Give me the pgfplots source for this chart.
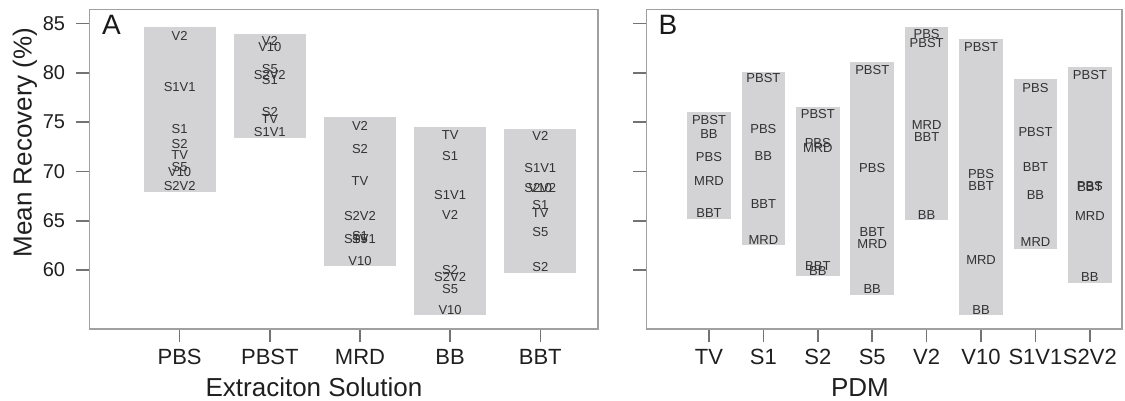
\documentclass[border=0pt]{standalone}
\usepackage{fontspec}
\setmainfont{Liberation Sans}
\usepackage{pgfplots}
\pgfplotsset{compat=1.18}
\usepackage{pgfplotstable}
\definecolor{boxgray}{RGB}{211,211,213}
\definecolor{labgray}{RGB}{50,50,50}
\definecolor{framegray}{RGB}{160,160,160}

\pgfplotstableread{
x y label
1 83.71 V2
1 78.51 S1V1
1 74.26 S1
1 72.81 S2
1 71.68 TV
1 70.45 S5
1 69.91 V10
1 68.49 S2V2
2 83.22 V2
2 82.61 V10
2 80.37 S5
2 79.78 S2V2
2 79.27 S1
2 75.98 S2
2 75.32 TV
2 74.01 S1V1
3 74.62 V2
3 72.29 S2
3 68.98 TV
3 65.44 S2V2
3 63.48 S1
3 63.20 S1V1
3 63.15 S5
3 60.92 V10
4 73.70 TV
4 71.61 S1
4 67.63 S1V1
4 65.61 V2
4 60.04 S2
4 59.30 S2V2
4 58.09 S5
4 56.00 V10
5 73.57 V2
5 70.37 S1V1
5 68.35 S2V2
5 68.35 V10
5 66.55 S1
5 65.81 TV
5 63.81 S5
5 60.35 S2
}\labelsA

\pgfplotstableread{
x y label
1 75.22 PBST
1 73.81 BB
1 71.51 PBS
1 68.98 MRD
1 65.78 BBT
2 79.47 PBST
2 74.31 PBS
2 71.61 BB
2 66.72 BBT
2 63.08 MRD
3 75.83 PBST
3 72.93 PBS
3 72.36 MRD
3 60.38 BBT
3 59.87 BB
4 80.28 PBST
4 70.33 PBS
4 63.86 BBT
4 62.67 MRD
4 58.09 BB
5 83.93 PBS
5 83.05 PBST
5 74.72 MRD
5 73.53 BBT
5 65.61 BB
6 82.58 PBST
6 69.76 PBS
6 68.57 BBT
6 60.98 MRD
6 55.99 BB
7 78.49 PBS
7 73.98 PBST
7 70.47 BBT
7 67.63 BB
7 62.80 MRD
8 79.78 PBST
8 68.50 PBS
8 68.42 BBT
8 65.51 MRD
8 59.30 BB
}\labelsB

\pgfplotsset{
  panel/.style={
    scale only axis,
    height=159.75pt,
    ymin=54.03, ymax=86.42,
    ytick={60,65,70,75,80,85},
    tick align=outside,
    tick pos=left,
    major tick length=6.75pt,
    axis line style={framegray, line width=0.75pt},
    tick style={black!55, line width=0.75pt},
    xtick=data,
    /pgf/number format/assume math mode=true,
    yticklabel style={font=\fontsize{10}{12}\selectfont, text=black!88, inner sep=0pt, xshift=-5.3pt},
    xticklabel style={font=\fontsize{11}{13}\selectfont, text=black!88, inner sep=0pt, anchor=north, yshift=-3pt},
    label style={font=\fontsize{13}{15}\selectfont, text=black!88},
    clip=false,
  },
  boxlabels/.style={
    draw=none, mark=none,
    nodes near coords,
    point meta=explicit symbolic,
    every node near coord/.style={anchor=center, inner sep=0pt, font=\fontsize{6.5}{7}\selectfont, text=labgray},
  },
}

\begin{document}
\begin{tikzpicture}
\useasboundingbox (0,0) rectangle (562.5pt,200.5pt);
\begin{axis}[panel,
  at={(44.75pt,36pt)}, anchor=south west,
  width=254.25pt,
  xmin=0, xmax=5.64,
  xtick={1,2,3,4,5},
  xticklabels={PBS,PBST,MRD,BB,BBT},
  xlabel={Extraciton Solution},
  ylabel={Mean Recovery (\%)},
  xlabel style={at={(axis description cs:0.4415,0)}, anchor=base, yshift=-33.85pt},
  ylabel style={at={(axis description cs:-0.1268,0.584)}, anchor=center, rotate=0},
]
\addplot[fill=boxgray, draw=none] coordinates {(0.6,67.87) (1.4,67.87) (1.4,84.60) (0.6,84.60)};
\addplot[fill=boxgray, draw=none] coordinates {(1.6,73.37) (2.4,73.37) (2.4,83.93) (1.6,83.93)};
\addplot[fill=boxgray, draw=none] coordinates {(2.6,60.38) (3.4,60.38) (3.4,75.50) (2.6,75.50)};
\addplot[fill=boxgray, draw=none] coordinates {(3.6,55.49) (4.4,55.49) (4.4,74.54) (3.6,74.54)};
\addplot[fill=boxgray, draw=none] coordinates {(4.6,59.71) (5.4,59.71) (5.4,74.31) (4.6,74.31)};
\addplot[boxlabels] table[x=x, y=y, meta=label] {\labelsA};
\node[anchor=base west, inner sep=0pt, font=\fontsize{14}{16}\selectfont, text=black!90] at ([xshift=6.1pt, yshift=-12.4pt]rel axis cs:0,1) {A};
\end{axis}

\begin{axis}[panel,
  at={(323.25pt,36pt)}, anchor=south west,
  width=237.75pt,
  xmin=-0.148, xmax=8.59,
  xtick={1,2,3,4,5,6,7,8},
  xticklabels={TV,S1,S2,S5,V2,V10,S1V1,S2V2},
  yticklabels={},
  xlabel={PDM},
  xlabel style={at={(axis description cs:0.449,0)}, anchor=base, yshift=-33.85pt},
]
\addplot[fill=boxgray, draw=none] coordinates {(0.6,65.17) (1.4,65.17) (1.4,76.00) (0.6,76.00)};
\addplot[fill=boxgray, draw=none] coordinates {(1.6,62.54) (2.4,62.54) (2.4,80.08) (1.6,80.08)};
\addplot[fill=boxgray, draw=none] coordinates {(2.6,59.36) (3.4,59.36) (3.4,76.57) (2.6,76.57)};
\addplot[fill=boxgray, draw=none] coordinates {(3.6,57.51) (4.4,57.51) (4.4,81.09) (3.6,81.09)};
\addplot[fill=boxgray, draw=none] coordinates {(4.6,65.03) (5.4,65.03) (5.4,84.61) (4.6,84.61)};
\addplot[fill=boxgray, draw=none] coordinates {(5.6,55.49) (6.4,55.49) (6.4,83.42) (5.6,83.42)};
\addplot[fill=boxgray, draw=none] coordinates {(6.6,62.17) (7.4,62.17) (7.4,79.34) (6.6,79.34)};
\addplot[fill=boxgray, draw=none] coordinates {(7.6,58.69) (8.4,58.69) (8.4,80.56) (7.6,80.56)};
\addplot[boxlabels] table[x=x, y=y, meta=label] {\labelsB};
\node[anchor=base west, inner sep=0pt, font=\fontsize{14}{16}\selectfont, text=black!90] at ([xshift=5.9pt, yshift=-12.4pt]rel axis cs:0,1) {B};
\end{axis}
\end{tikzpicture}
\end{document}
